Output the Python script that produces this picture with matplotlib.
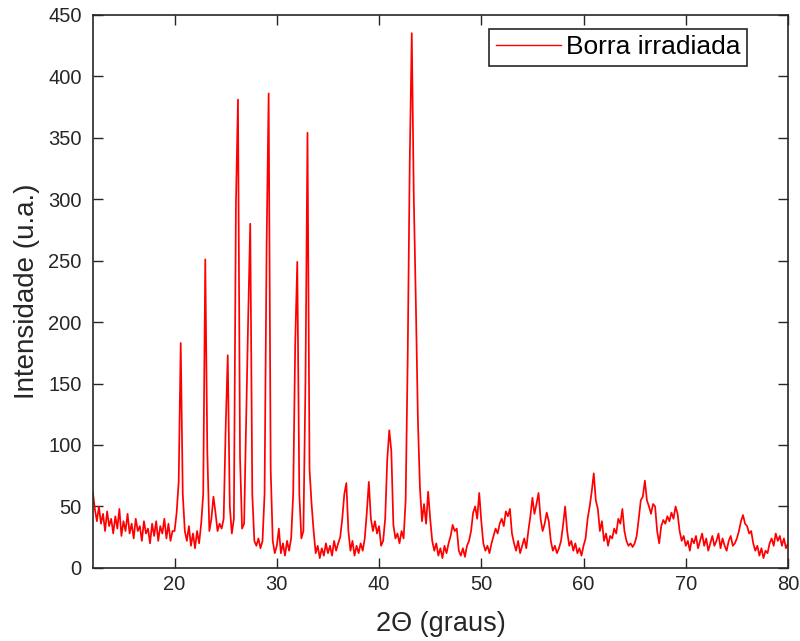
import numpy as np
import matplotlib
matplotlib.use("Agg")
import matplotlib.pyplot as plt

plt.rcParams["font.family"] = ["Liberation Sans", "DejaVu Sans"]

# 2theta grid (0.2 deg step) and intensity
two_theta = np.round(np.arange(12.0, 80.0001, 0.2), 1)
intensidade = [
    62, 48, 38, 50, 36, 44, 30, 46, 34, 40,         # 12
    28, 42, 32, 48, 26, 38, 30, 44, 28, 36,         # 14
    24, 40, 30, 34, 22, 38, 28, 32, 20, 36,         # 16
    26, 38, 22, 34, 28, 40, 24, 36, 22, 30,         # 18
    30, 45, 70, 183, 60, 30, 22, 34, 18, 28,        # 20
    16, 30, 20, 36, 60, 251, 95, 30, 40, 58,        # 22
    45, 30, 36, 32, 40, 115, 173, 50, 28, 40,       # 24
    296, 381, 90, 32, 36, 120, 204, 280, 60, 22,    # 26
    18, 24, 16, 22, 60, 262, 386, 80, 22, 12,       # 28
    18, 32, 12, 20, 10, 22, 14, 24, 60, 183,        # 30
    249, 60, 24, 30, 150, 354, 80, 52, 30, 12,      # 32
    18, 8, 16, 10, 20, 12, 18, 10, 22, 14,          # 34
    20, 25, 40, 60, 69, 30, 14, 22, 10, 18,         # 36
    12, 20, 14, 24, 45, 70, 40, 30, 38, 28,         # 38
    34, 18, 22, 40, 88, 112, 95, 35, 24, 28,        # 40
    20, 30, 24, 55, 170, 330, 435, 300, 215, 120,   # 42
    65, 38, 52, 36, 62, 40, 22, 14, 20, 10,         # 44
    16, 8, 18, 12, 20, 26, 35, 30, 32, 14,          # 46
    10, 16, 9, 18, 22, 30, 45, 50, 40, 61,          # 48
    38, 20, 14, 18, 12, 20, 26, 32, 28, 36,         # 50
    40, 34, 46, 42, 48, 28, 20, 14, 22, 12,         # 52
    18, 24, 16, 30, 42, 57, 44, 52, 61, 40,         # 54
    30, 36, 45, 38, 22, 14, 18, 12, 16, 22,         # 56
    35, 50, 30, 18, 22, 14, 20, 12, 16, 10,         # 58
    18, 24, 40, 50, 62, 77, 55, 48, 30, 38,         # 60
    22, 28, 18, 26, 24, 32, 28, 40, 36, 48,         # 62
    30, 22, 18, 20, 17, 20, 26, 40, 55, 58,         # 64
    71, 55, 50, 44, 52, 50, 30, 20, 34, 39,         # 66
    36, 42, 38, 45, 40, 50, 44, 30, 22, 26,         # 68
    18, 22, 14, 24, 20, 26, 16, 22, 28, 18,         # 70
    24, 14, 20, 26, 18, 22, 28, 16, 24, 18,         # 72
    14, 22, 26, 18, 20, 24, 30, 38, 43, 36,         # 74
    34, 28, 30, 20, 14, 18, 10, 16, 8, 14,          # 76
    12, 20, 24, 18, 28, 22, 26, 18, 24, 16,         # 78
    20,                                             # 80
]
x_ticks = [20, 30, 40, 50, 60, 70, 80]
y_ticks = [0, 50, 100, 150, 200, 250, 300, 350, 400, 450]

axis_col = "#262626"

fig = plt.figure(figsize=(8.0, 6.41), dpi=100)
ax = fig.add_axes([0.116, 0.114, 0.869, 0.863])

ax.plot(two_theta, intensidade, color="red", lw=1.25, label="Borra irradiada")

ax.set_xlim(12, 80)
ax.set_ylim(0, 450)
ax.set_xticks(x_ticks)
ax.set_yticks(y_ticks)
ax.tick_params(direction="in", length=7, width=1, colors=axis_col,
               labelsize=14.5, top=True, right=True)
ax.tick_params(axis="x", pad=5)
ax.tick_params(axis="y", pad=8)
for s in ax.spines.values():
    s.set_color(axis_col)
    s.set_linewidth(1.2)

ax.set_xlabel("2Θ (graus)", fontsize=19.5, color=axis_col, labelpad=12)
ax.set_ylabel("Intensidade (u.a.)", fontsize=20, color=axis_col, labelpad=6)

leg = ax.legend(loc="upper right", bbox_to_anchor=(0.941, 0.975), borderaxespad=0,
                fontsize=19, fancybox=False, framealpha=1, edgecolor=axis_col,
                handlelength=2.45, handletextpad=0.2, borderpad=0.25)
leg.get_frame().set_linewidth(1.2)
leg.get_lines()[0].set_linewidth(1.0)

fig.savefig("out.png", dpi=100)
